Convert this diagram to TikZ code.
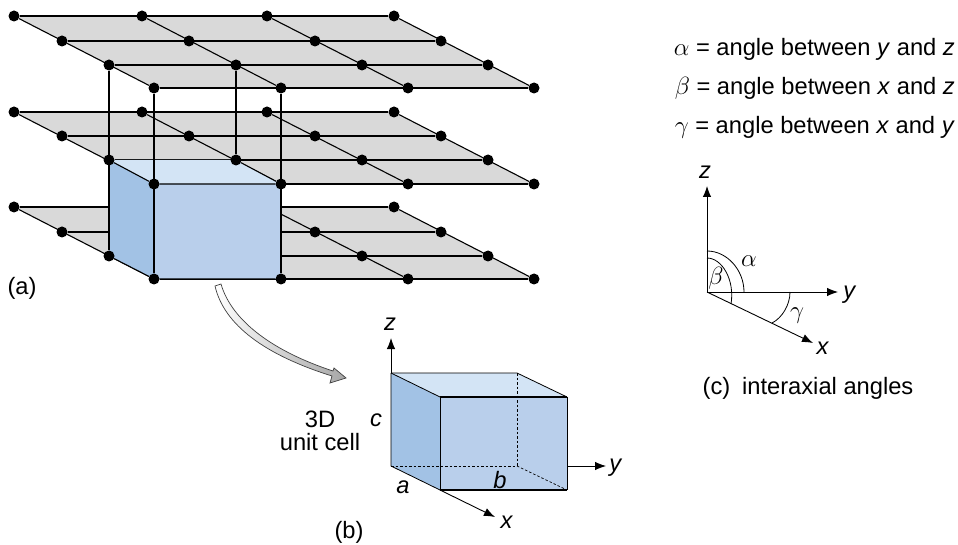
\documentclass[tikz,border=0pt]{standalone}
\usepackage{fontspec}
\setmainfont{Liberation Sans}
\usetikzlibrary{arrows.meta,backgrounds}
\definecolor{plane}{HTML}{D9D9D9}
\definecolor{facetop}{HTML}{D3E4F5}
\definecolor{faceleft}{HTML}{A2C2E5}
\definecolor{facefront}{HTML}{B9CFEB}
\tikzset{
  dot/.style={circle,fill=black,inner sep=0pt,minimum size=11pt},
  edge/.style={line width=1.1pt},
  thinedge/.style={line width=0.8pt},
  hiddenedge/.style={line width=0.7pt,dash pattern=on 2.5pt off 2pt},
  axis/.style={line width=0.9pt,-{Latex[length=11pt,width=8.5pt]}},
  angle/.style={line width=0.8pt},
  lab/.style={inner sep=0pt,font=\fontsize{23.7}{27}\selectfont},
  % lattice points that sit behind the front face of the cell
  hide301/.style={fill=none},
  hide311/.style={fill=none},
  hide321/.style={fill=none},
  hide302/.style={fill=none}
}
\begin{document}
\begin{tikzpicture}[x=1pt,y=-1pt]
    \useasboundingbox (0,0) rectangle (958,545);

    % lattice points
    \foreach \l/\ya/\yb/\yc/\yd in {1/16/41/65/88,2/112/136/160/184,3/207/232/256/279}
      \foreach \c/\xa/\xb/\xc/\xd in {0/14/62/109/154,1/142/189/236/281,2/267/315/362/408,3/394/441/488/534} {
        \node[dot,hide\l0\c/.try] (p\l0\c) at (\xa,\ya) {};
        \node[dot,hide\l1\c/.try] (p\l1\c) at (\xb,\yb) {};
        \node[dot,hide\l2\c/.try] (p\l2\c) at (\xc,\yc) {};
        \node[dot,hide\l3\c/.try] (p\l3\c) at (\xd,\yd) {};
      }

    \begin{scope}[on background layer]
      % planes
      \foreach \l in {1,2,3} {
        \fill[plane] (p\l00.center) -- (p\l03.center) -- (p\l33.center) -- (p\l30.center) -- cycle;
        \foreach \r in {0,1,2,3}
          \draw[edge] (p\l\r0) -- (p\l\r3);
        \foreach \c in {0,1,2,3}
          \draw[edge] (p\l0\c) -- (p\l3\c);
      }

      % cell inside the lattice
      \fill[facetop] (p220.center) -- (p221.center) -- (p231.center) -- (p230.center) -- cycle;
      \fill[faceleft] (p220.center) -- (p230.center) -- (p330.center) -- (p320.center) -- cycle;
      \fill[facefront] (p230.center) -- (p231.center) -- (p331.center) -- (p330.center) -- cycle;
      \draw[edge] (p220) -- (p230) -- (p231) -- (p221);
      \draw[edge] (p320) -- (p330) -- (p331);

      % uprights
      \draw[edge] (p120) -- (p320);
      \draw[edge] (p130) -- (p330);
      \draw[edge] (p121) -- (p221);
      \draw[edge] (p131) -- (p331);
    \end{scope}

    \node[lab] (lbla) at (22,288) {(a)};

    % arrow to the cell
    \shade[left color=white,right color=black!35,draw=black!75,line width=0.7pt]
      (215,286) .. controls (224,325) and (265,355) .. (332,376)
      -- (330,383) -- (346,378) -- (334,368) -- (333,371)
      .. controls (275,352) and (232,322) .. (221,284) -- cycle;

    % unit cell
    \coordinate (bt) at (391,373);
    \coordinate (rt) at (517,373);
    \coordinate (ft) at (440,397);
    \coordinate (gt) at (567,397);
    \coordinate (bb) at (391,466);
    \coordinate (rb) at (517,466);
    \coordinate (fb) at (440,490);
    \coordinate (gb) at (567,490);
    \fill[facetop] (bt) -- (rt) -- (gt) -- (ft) -- cycle;
    \fill[faceleft] (bt) -- (ft) -- (fb) -- (bb) -- cycle;
    \fill[facefront] (ft) -- (gt) -- (gb) -- (fb) -- cycle;
    \draw[hiddenedge] (bb) -- (rb);
    \draw[hiddenedge] (rt) -- (rb);
    \draw[hiddenedge] (rb) -- (gb);
    \draw[thinedge] (bt) -- (rt) -- (gt);
    \draw[thinedge] (bt) -- (ft);
    \draw[thinedge] (bt) -- (bb) -- (fb);
    \draw[thinedge] (ft) -- (fb);
    \draw[thinedge] (gt) -- (gb);
    \draw[edge] (ft) -- (gt);
    \draw[edge] (fb) -- (gb);

    % axes of the cell
    \coordinate (zb) at (391,338);
    \coordinate (yb) at (606,466);
    \coordinate (xb) at (495,517);
    \draw[axis] (bt) -- (zb);
    \draw[axis] (567,466) coordinate (ys) -- (yb);
    \draw[axis] (fb) -- (xb);

    \node[lab] (zlb) at (390,324) {\textit{z}};
    \node[lab] (ylb) at (616,468) {\textit{y}};
    \node[lab] (xlb) at (507,522) {\textit{x}};
    \node[lab] (clb) at (376,420) {\textit{c}};
    \node[lab] (alb) at (403,487) {\textit{a}};
    \node[lab] (blb) at (500,480) {\textit{b}};
    \node[lab] (cell3d) at (320,419) {3D};
    \node[lab] (cellname) at (320,442) {unit cell};
    \node[lab] (lblb) at (349,532) {(b)};

    % definitions
    \node[lab,anchor=east] (defa) at (955,49) {$\alpha$ = angle between \textit{y} and \textit{z}};
    \node[lab,anchor=east] (defb) at (955,88) {$\beta$ = angle between \textit{x} and \textit{z}};
    \node[lab,anchor=east] (defc) at (955,127) {$\gamma$ = angle between \textit{x} and \textit{y}};

    % interaxial angles
    \coordinate (o) at (707,292);
    \coordinate (zc) at (707,186);
    \coordinate (yc) at (838,292);
    \coordinate (xc) at (813,343);
    \draw[axis] (o) -- (zc);
    \draw[axis] (o) -- (yc);
    \draw[axis] (o) -- (xc);
    \draw[angle] (707,251) .. controls (727,251) and (744,270) .. (744,292);
    \draw[angle] (707,258) .. controls (722,258) and (735,280) .. (731,304);
    \draw[angle] (790,292) .. controls (790,305) and (782,318) .. (772,323);

    \node[lab] (zlc) at (705,172) {\textit{z}};
    \node[lab] (ylc) at (850,295) {\textit{y}};
    \node[lab] (xlc) at (823,348) {\textit{x}};
    \node[lab] (alpha) at (749,261) {$\alpha$};
    \node[lab] (beta) at (716,278) {$\beta$};
    \node[lab] (gamma) at (797,316) {$\gamma$};
    \node[lab] (lblc) at (808,388) {(c)\hspace{0.5em}interaxial angles};
\end{tikzpicture}
\end{document}
